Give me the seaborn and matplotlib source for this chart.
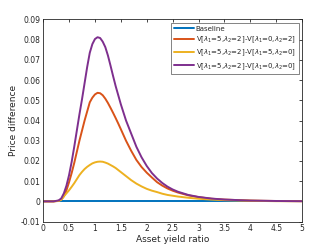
import matplotlib
matplotlib.use("Agg")
import matplotlib.pyplot as plt
import seaborn as sns
import pandas as pd
import numpy as np

# values
x_base = [0, 5]
y_base = [0, 0]

x_pts = [0, 0.2, 0.3, 0.35, 0.4, 0.45, 0.5, 0.55, 0.6, 0.65, 0.7, 0.75, 0.8, 0.85,
         0.9, 0.95, 1.0, 1.05, 1.1, 1.15, 1.2, 1.25, 1.3, 1.35, 1.4, 1.45, 1.5, 1.6,
         1.7, 1.8, 1.9, 2.0, 2.1, 2.2, 2.3, 2.4, 2.5, 2.6, 2.8, 3.0, 3.25, 3.5, 4.0,
         4.5, 5.0]

y_purple = [0, 0, 0.0005, 0.0015, 0.004, 0.0078, 0.013, 0.0195, 0.027, 0.035,
            0.043, 0.0505, 0.0585, 0.0665, 0.0735, 0.0778, 0.0803, 0.0812, 0.0808, 0.0790,
            0.0763, 0.0722, 0.0672, 0.0620, 0.0570, 0.0525, 0.0480, 0.0400, 0.0335, 0.0270,
            0.0218, 0.0175, 0.0140, 0.0113, 0.0091, 0.0073, 0.0059, 0.0048, 0.0032, 0.0022,
            0.0014, 0.0009, 0.0004, 0.0002, 0.0001]

y_orange = [0, 0, 0.0003, 0.0009, 0.0025, 0.0055, 0.0095, 0.014, 0.019, 0.0245,
            0.030, 0.035, 0.040, 0.0445, 0.0490, 0.0513, 0.0529, 0.0537, 0.0535, 0.0525,
            0.0508, 0.0487, 0.0463, 0.0438, 0.0412, 0.0385, 0.0357, 0.030, 0.025, 0.0205,
            0.0170, 0.0142, 0.0118, 0.0095, 0.0078, 0.0064, 0.0053, 0.0044, 0.0030, 0.0021,
            0.0013, 0.0009, 0.0004, 0.0002, 0.0001]

y_yellow = [0, 0, 0.0002, 0.0008, 0.0025, 0.004, 0.0055, 0.0072, 0.009, 0.011,
            0.013, 0.0146, 0.016, 0.0171, 0.0180, 0.0188, 0.0193, 0.0196, 0.0197, 0.0196,
            0.0192, 0.0187, 0.0180, 0.0173, 0.0165, 0.0155, 0.0145, 0.0125, 0.0105, 0.0088,
            0.0074, 0.0062, 0.0053, 0.0046, 0.0038, 0.0032, 0.0028, 0.0024, 0.0018, 0.0013,
            0.0009, 0.0006, 0.0003, 0.0001, 0.0001]

labels = ['Baseline',
          r'V[$\lambda_1$=5,$\lambda_2$=2]-V[$\lambda_1$=0,$\lambda_2$=2]',
          r'V[$\lambda_1$=5,$\lambda_2$=2]-V[$\lambda_1$=5,$\lambda_2$=0]',
          r'V[$\lambda_1$=5,$\lambda_2$=2]-V[$\lambda_1$=0,$\lambda_2$=0]']
colors = ['#0072BD', '#D95319', '#EDB120', '#7E2F8E']

sns.set_style("white")
plt.rcParams['font.family'] = ['DejaVu Sans']
plt.rcParams['mathtext.fontset'] = 'dejavusans'

fig = plt.figure(figsize=(3.32, 2.49), dpi=100)
ax = fig.add_axes([0.13, 0.11, 0.78, 0.812])

series = [(x_base, y_base), (x_pts, y_orange), (x_pts, y_yellow), (x_pts, y_purple)]
for (xs, ys), lab, col in zip(series, labels, colors):
    df = pd.DataFrame({"x": xs, "y": ys})
    sns.lineplot(data=df, x="x", y="y", ax=ax, color=col, linewidth=1.4, label=lab)

ax.set_xlim(0, 5)
ax.set_ylim(-0.01, 0.09)
ax.set_xticks(np.arange(0, 5.01, 0.5))
ax.set_xticklabels(['0', '0.5', '1', '1.5', '2', '2.5', '3', '3.5', '4', '4.5', '5'])
ax.set_yticks(np.arange(-0.01, 0.0901, 0.01))
ax.set_yticklabels(['-0.01', '0', '0.01', '0.02', '0.03', '0.04', '0.05', '0.06',
                    '0.07', '0.08', '0.09'])
ax.tick_params(direction='in', length=2.5, width=0.6, labelsize=5.5, colors='#262626',
               top=True, right=True, pad=2)
for s in ax.spines.values():
    s.set_color('#262626')
    s.set_linewidth(0.6)
ax.set_xlabel('Asset yield ratio', fontsize=6.5, labelpad=1, color='#262626')
ax.set_ylabel('Price difference', fontsize=6.5, labelpad=2, color='#262626')

leg = ax.legend(loc='upper right', fontsize=5, frameon=True, fancybox=False,
                edgecolor='#262626', handlelength=2.9, handletextpad=0.3,
                borderpad=0.4, labelspacing=0.4, borderaxespad=0.5)
leg.get_frame().set_linewidth(0.5)

plt.savefig("out.png", dpi=100)
plt.close()
